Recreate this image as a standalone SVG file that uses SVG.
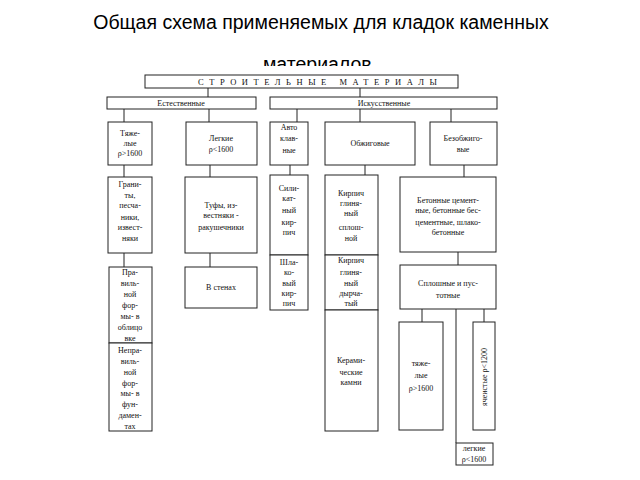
<svg xmlns="http://www.w3.org/2000/svg" width="640" height="480" viewBox="0 0 640 480">
<style>
.t{font-family:"Liberation Sans",Arial,sans-serif;font-size:19.5px;fill:#000;text-anchor:middle}
.b{fill:#fff;stroke:#222;stroke-width:1}
.s{font-family:"Liberation Serif","Times New Roman",serif;font-size:8px;fill:#111;text-anchor:middle}
.c{stroke:#222;stroke-width:1;fill:none}
</style>
<rect width="640" height="480" fill="#fff"/>
<text class="t" x="321" y="29">Общая схема применяемых для кладок каменных</text>
<text class="t" x="320" y="71">материалов.</text>
<rect x="0" y="66" width="640" height="414" fill="#fff"/>

<g id="connectors">
<path class="c" d="M208 88V97M360 88V97M124 109V122M209 109V122M297 109V122M360 109V122M451 109V122M124 165V177M210 165V177M290 165V175M365 165V175M464 165V177M124 253V267M210 253V267M458 252V265M422 309V322M484 309V322M456 309V443"/>
</g>

<g id="root"><rect class="b" x="145" y="75" width="313" height="13"/>
<text class="s" x="198" y="85" textLength="239" lengthAdjust="spacing" style="text-anchor:start;font-size:8.5px">СТРОИТЕЛЬНЫЕ МАТЕРИАЛЫ</text></g>

<g id="natural"><rect class="b" x="107" y="97" width="149" height="12"/><text class="s" x="181" y="106">Естественные</text></g>
<g id="artificial"><rect class="b" x="270" y="97" width="227" height="12"/><text class="s" x="384" y="106">Искусственные</text></g>

<g id="heavy"><rect class="b" x="108" y="122" width="44" height="43"/>
<text class="s" x="130" y="136">Тяже-</text><text class="s" x="130" y="146">лые</text><text class="s" x="130" y="156">ρ&gt;1600</text></g>
<g id="light"><rect class="b" x="186" y="122" width="71" height="43"/>
<text class="s" x="221" y="141">Легкие</text><text class="s" x="221" y="152">ρ&lt;1600</text></g>
<g id="autoclave"><rect class="b" x="270" y="122" width="38" height="43"/>
<text class="s" x="289" y="130">Авто</text><text class="s" x="289" y="141">клав-</text><text class="s" x="289" y="153">ные</text></g>
<g id="fired"><rect class="b" x="325" y="122" width="90" height="43"/><text class="s" x="370" y="146">Обжиговые</text></g>
<g id="unfired"><rect class="b" x="430" y="122" width="67" height="43"/>
<text class="s" x="463" y="141">Безобжиго-</text><text class="s" x="463" y="152">вые</text></g>

<g id="granite"><rect class="b" x="108" y="177" width="44" height="76"/>
<text class="s" x="130" y="187">Грани-</text><text class="s" x="130" y="198">ты,</text><text class="s" x="130" y="208">песча-</text><text class="s" x="130" y="220">ники,</text><text class="s" x="130" y="230">извест-</text><text class="s" x="130" y="241">няки</text></g>
<g id="tuff"><rect class="b" x="185" y="177" width="72" height="76"/>
<text class="s" x="221" y="208">Туфы, из-</text><text class="s" x="221" y="218">вестняки -</text><text class="s" x="221" y="230">ракушечники</text></g>
<g id="silicate"><rect class="b" x="270" y="175" width="38" height="80"/>
<text class="s" x="289" y="191">Сили-</text><text class="s" x="289" y="201">кат-</text><text class="s" x="289" y="213">ный</text><text class="s" x="289" y="225">кир-</text><text class="s" x="289" y="235">пич</text></g>
<g id="slag"><rect class="b" x="270" y="255" width="38" height="55"/>
<text class="s" x="289" y="265">Шла-</text><text class="s" x="289" y="275">ко-</text><text class="s" x="289" y="286">вый</text><text class="s" x="289" y="296">кир-</text><text class="s" x="289" y="306">пич</text></g>
<g id="solidbrick"><rect class="b" x="325" y="175" width="53" height="80"/>
<text class="s" x="351" y="196">Кирпич</text><text class="s" x="351" y="206">глиня-</text><text class="s" x="351" y="216">ный</text><text class="s" x="351" y="230">сплош-</text><text class="s" x="351" y="241">ной</text></g>
<g id="hollowbrick"><rect class="b" x="325" y="255" width="53" height="55"/>
<text class="s" x="351" y="263">Кирпич</text><text class="s" x="351" y="275">глиня-</text><text class="s" x="351" y="286">ный</text><text class="s" x="351" y="296">дырча-</text><text class="s" x="351" y="306">тый</text></g>
<g id="ceramic"><rect class="b" x="325" y="310" width="53" height="121"/>
<text class="s" x="351" y="363">Керами-</text><text class="s" x="351" y="375">ческие</text><text class="s" x="351" y="385">камни</text></g>
<g id="concrete"><rect class="b" x="400" y="177" width="96" height="75"/>
<text class="s" x="448" y="203">Бетонные цемент-</text><text class="s" x="448" y="213">ные, бетонные бес-</text><text class="s" x="448" y="225">цементные, шлако-</text><text class="s" x="448" y="235">бетонные</text></g>

<g id="regular"><rect class="b" x="109" y="267" width="43" height="76"/>
<text class="s" x="130" y="275">Пра-</text><text class="s" x="130" y="286">виль-</text><text class="s" x="130" y="297">ной</text><text class="s" x="130" y="308">фор-</text><text class="s" x="130" y="319">мы- в</text><text class="s" x="130" y="330">облицо</text><text class="s" x="130" y="341">вке</text></g>
<g id="irregular"><rect class="b" x="109" y="343" width="43" height="88"/>
<text class="s" x="130" y="353">Непра-</text><text class="s" x="130" y="364">виль-</text><text class="s" x="130" y="375">ной</text><text class="s" x="130" y="386">фор-</text><text class="s" x="130" y="396">мы- в</text><text class="s" x="130" y="407">фун-</text><text class="s" x="130" y="418">дамен-</text><text class="s" x="130" y="429">тах</text></g>
<g id="walls"><rect class="b" x="185" y="267" width="72" height="41"/><text class="s" x="221" y="290">В стенах</text></g>
<g id="solidhollow"><rect class="b" x="400" y="265" width="96" height="44"/>
<text class="s" x="448" y="286">Сплошные и пус-</text><text class="s" x="448" y="298">тотные</text></g>

<g id="heavy2"><rect class="b" x="399" y="322" width="44" height="108"/>
<text class="s" x="421" y="366">тяже-</text><text class="s" x="421" y="378">лые</text><text class="s" x="421" y="391">ρ&gt;1600</text></g>
<g id="cellular"><rect class="b" x="473" y="322" width="22" height="108"/>
<text class="s" transform="translate(487 377) rotate(-90)">ячеистые ρ&lt;1200</text></g>
<g id="light2"><rect class="b" x="456" y="443" width="37" height="22"/>
<text class="s" x="474" y="451">легкие</text><text class="s" x="474" y="462">ρ&lt;1600</text></g>
</svg>
